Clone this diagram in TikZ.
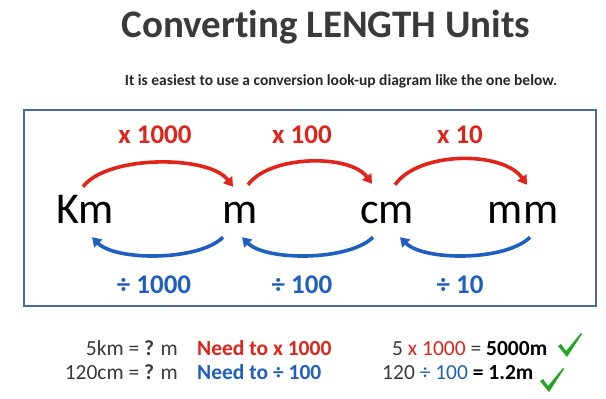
\documentclass[tikz,border=0pt]{standalone}
\usepackage{fontspec}
\setmainfont{Carlito}[Ligatures=NoCommon]
\usetikzlibrary{arrows.meta,calc}
\definecolor{mult}{HTML}{E2231A}
\definecolor{divi}{HTML}{1F5FBF}
\definecolor{frame}{HTML}{4A6A9E}
\definecolor{ink}{HTML}{3A3A3A}
\definecolor{tickgreen}{HTML}{22A322}

\begin{document}
\begin{tikzpicture}[x=1pt, y=1pt,
  unit/.style={font=\fontsize{44}{48}\selectfont, inner sep=0pt,
               text height=27pt, text depth=0pt, anchor=base},
  uplabel/.style={font=\fontsize{27}{30}\selectfont\bfseries, text=mult, inner sep=0pt},
  downlabel/.style={font=\fontsize{27}{30}\selectfont\bfseries, text=divi, inner sep=0pt},
  rarr/.style={-{Triangle[length=9pt,width=11pt]}, line width=3.6pt, draw=mult},
  barr/.style={-{Triangle[length=9pt,width=11pt]}, line width=3.6pt, draw=divi},
  row/.style={font=\fontsize{21.5}{24}\selectfont, text=ink, inner sep=0pt},
  panel/.style={draw=frame, line width=1.8pt, minimum width=572pt,
                minimum height=196pt, inner sep=0pt},
  greentick/.pic={\fill[tickgreen] (0,-13) -- (3,-11) -- (8,-18) -- (23,0)
                   -- (24,-1) -- (9,-24) -- cycle;},
]
  \useasboundingbox (0,0) rectangle (606,-399);

  % heading
  \node[font=\fontsize{39}{44}\selectfont\bfseries, text=ink, inner sep=0pt,
        anchor=base] (heading) at (326,-37) {Converting LENGTH Units};
  \node[font=\fontsize{15.5}{18}\selectfont\bfseries, text=black!85, inner sep=0pt,
        anchor=base] (intro) at (341,-85)
        {It is easiest to use a conversion look-up diagram like the one below.};

  % look-up diagram
  \node[panel] (frame) at (310,-208) {};
  \node[unit] (km) at (85,-223) {Km};
  \node[unit] (m) at (240,-223) {m};
  \node[unit] (cm) at (387,-223) {cm};
  \node[unit] (mm) at (523,-223) {mm};

  \draw[rarr] ([shift={(-2,9)}]km.north) .. controls +(24,32) and +(-24,32) .. ([shift={(-7,9)}]m.north);
  \draw[rarr] ([shift={(8,11)}]m.north) .. controls +(22,30) and +(-22,30) .. ([shift={(-15,12)}]cm.north);
  \draw[rarr] ([shift={(8,11)}]cm.north) .. controls +(24,34) and +(-24,34) .. ([shift={(4,11)}]mm.north);

  \draw[barr] ([shift={(-17,-14)}]m.south) .. controls +(-24,-24) and +(24,-24) .. ([shift={(7,-14)}]km.south);
  \draw[barr] ([shift={(-14,-14)}]cm.south) .. controls +(-24,-24) and +(24,-24) .. ([shift={(2,-14)}]m.south);
  \draw[barr] ([shift={(7,-14)}]mm.south) .. controls +(-24,-24) and +(24,-24) .. ([shift={(13,-14)}]cm.south);

  \node[uplabel] (up1) at (155,-135) {x 1000};
  \node[uplabel] (up2) at (302,-135) {x 100};
  \node[uplabel] (up3) at (460,-135) {x 10};
  \node[downlabel] (dn1) at (154,-285) {÷ 1000};
  \node[downlabel] (dn2) at (302,-285) {÷ 100};
  \node[downlabel] (dn3) at (460,-285) {÷ 10};

  % worked examples
  \node[row, anchor=base east] (q1) at (178,-355) {5km = \textbf{?} m};
  \node[row, anchor=base west, text=mult] (h1) at (197,-355) {\textbf{Need to x 1000}};
  \node[row, anchor=base west] (a1) at (392,-355)
        {5 \textcolor{mult}{x 1000} = \textbf{\textcolor{black}{5000m}}};
  \node[row, anchor=base east] (q2) at (178,-379) {120cm = \textbf{?} m};
  \node[row, anchor=base west, text=divi] (h2) at (197,-379) {\textbf{Need to ÷ 100}};
  \node[row, anchor=base west] (a2) at (382,-379)
        {120 \textcolor{divi}{÷ 100} \textbf{\textcolor{black}{= 1.2m}}};
  \pic at (558,-333) {greentick};
  \pic at (540,-368) {greentick};
\end{tikzpicture}
\end{document}
